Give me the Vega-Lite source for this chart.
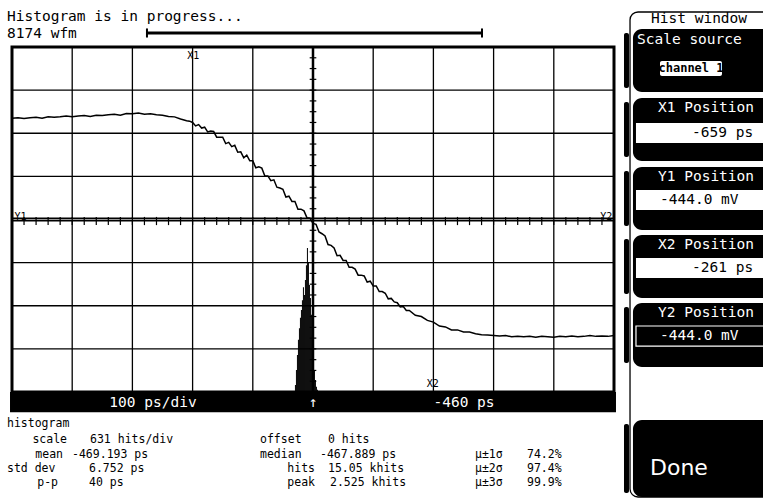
{
  "$schema": "https://vega.github.io/schema/vega-lite/v6.json",
  "width": 763,
  "height": 498,
  "autosize": {"type": "none"},
  "padding": 0,
  "background": "white",
  "config": {"view": {"stroke": null}, "text": {"font": "DejaVu Sans Mono"}},
  "datasets": {
    "vgrid": [{"t": -860}, {"t": -760}, {"t": -660}, {"t": -560}, {"t": -360}, {"t": -260}, {"t": -160}, {"t": -60}],
    "hgrid": [{"v": 1}, {"v": 2}, {"v": 3}, {"v": 5}, {"v": 6}, {"v": 7}],
    "hticks": [{"t": -940}, {"t": -920}, {"t": -900}, {"t": -880}, {"t": -860}, {"t": -840}, {"t": -820}, {"t": -800}, {"t": -780}, {"t": -760}, {"t": -740}, {"t": -720}, {"t": -700}, {"t": -680}, {"t": -660}, {"t": -640}, {"t": -620}, {"t": -600}, {"t": -580}, {"t": -560}, {"t": -540}, {"t": -520}, {"t": -500}, {"t": -480}, {"t": -440}, {"t": -420}, {"t": -400}, {"t": -380}, {"t": -360}, {"t": -340}, {"t": -320}, {"t": -300}, {"t": -280}, {"t": -260}, {"t": -240}, {"t": -220}, {"t": -200}, {"t": -180}, {"t": -160}, {"t": -140}, {"t": -120}, {"t": -100}, {"t": -80}, {"t": -60}, {"t": -40}, {"t": -20}, {"t": 0}, {"t": 20}],
    "vticks": [{"v": 0.25}, {"v": 0.5}, {"v": 0.75}, {"v": 1}, {"v": 1.25}, {"v": 1.5}, {"v": 1.75}, {"v": 2}, {"v": 2.25}, {"v": 2.5}, {"v": 2.75}, {"v": 3}, {"v": 3.25}, {"v": 3.5}, {"v": 3.75}, {"v": 4.25}, {"v": 4.5}, {"v": 4.75}, {"v": 5}, {"v": 5.25}, {"v": 5.5}, {"v": 5.75}, {"v": 6}, {"v": 6.25}, {"v": 6.5}, {"v": 6.75}, {"v": 7}, {"v": 7.25}, {"v": 7.5}, {"v": 7.75}],
    "histogram": [
      {"t0": -490.00, "t1": -488.34, "h": 0.16}, {"t0": -488.34, "t1": -486.68, "h": 0.51}, {"t0": -486.68, "t1": -485.02, "h": 0.86},
      {"t0": -485.02, "t1": -483.36, "h": 1.21}, {"t0": -483.36, "t1": -481.70, "h": 1.48}, {"t0": -481.70, "t1": -480.04, "h": 1.72},
      {"t0": -480.04, "t1": -478.38, "h": 1.90}, {"t0": -478.38, "t1": -476.72, "h": 2.13}, {"t0": -476.72, "t1": -475.06, "h": 2.43},
      {"t0": -475.06, "t1": -473.40, "h": 2.25}, {"t0": -473.40, "t1": -471.74, "h": 2.60}, {"t0": -471.74, "t1": -470.08, "h": 2.94},
      {"t0": -470.08, "t1": -468.42, "h": 3.34}, {"t0": -468.42, "t1": -466.76, "h": 3.01}, {"t0": -466.76, "t1": -465.10, "h": 2.48},
      {"t0": -465.10, "t1": -463.44, "h": 2.18}, {"t0": -463.44, "t1": -461.78, "h": 1.79}, {"t0": -461.78, "t1": -460.12, "h": 1.32},
      {"t0": -460.12, "t1": -458.46, "h": 0.86}, {"t0": -458.46, "t1": -456.80, "h": 0.51}, {"t0": -456.80, "t1": -455.14, "h": 0.28},
      {"t0": -455.14, "t1": -453.48, "h": 0.12}, {"t0": -453.48, "t1": -451.82, "h": 0.05}
    ],
    "waveform": [
      {"t": -960, "v": 6.35}, {"t": -950, "v": 6.36}, {"t": -940, "v": 6.34}, {"t": -930, "v": 6.36}, {"t": -920, "v": 6.37},
      {"t": -910, "v": 6.35}, {"t": -900, "v": 6.38}, {"t": -890, "v": 6.37}, {"t": -880, "v": 6.38}, {"t": -870, "v": 6.40},
      {"t": -860, "v": 6.38}, {"t": -850, "v": 6.40}, {"t": -840, "v": 6.41}, {"t": -830, "v": 6.39}, {"t": -820, "v": 6.42},
      {"t": -810, "v": 6.41}, {"t": -800, "v": 6.43}, {"t": -790, "v": 6.44}, {"t": -780, "v": 6.42}, {"t": -770, "v": 6.46},
      {"t": -760, "v": 6.45}, {"t": -750, "v": 6.47}, {"t": -740, "v": 6.44}, {"t": -730, "v": 6.45}, {"t": -720, "v": 6.43},
      {"t": -710, "v": 6.42}, {"t": -700, "v": 6.39}, {"t": -690, "v": 6.38}, {"t": -680, "v": 6.33}, {"t": -670, "v": 6.29},
      {"t": -665, "v": 6.28}, {"t": -660, "v": 6.25}, {"t": -655, "v": 6.17}, {"t": -650, "v": 6.20}, {"t": -645, "v": 6.12},
      {"t": -640, "v": 6.14}, {"t": -635, "v": 6.03}, {"t": -630, "v": 6.05}, {"t": -625, "v": 6.04}, {"t": -620, "v": 5.91},
      {"t": -615, "v": 5.91}, {"t": -610, "v": 5.91}, {"t": -605, "v": 5.76}, {"t": -600, "v": 5.79}, {"t": -595, "v": 5.69},
      {"t": -590, "v": 5.72}, {"t": -585, "v": 5.56}, {"t": -580, "v": 5.57}, {"t": -575, "v": 5.43}, {"t": -570, "v": 5.49},
      {"t": -565, "v": 5.36}, {"t": -560, "v": 5.36}, {"t": -555, "v": 5.20}, {"t": -550, "v": 5.22}, {"t": -545, "v": 5.19},
      {"t": -540, "v": 5.01}, {"t": -535, "v": 5.01}, {"t": -530, "v": 4.90}, {"t": -525, "v": 4.92}, {"t": -520, "v": 4.75},
      {"t": -515, "v": 4.73}, {"t": -510, "v": 4.70}, {"t": -505, "v": 4.52}, {"t": -500, "v": 4.54}, {"t": -495, "v": 4.42},
      {"t": -490, "v": 4.42}, {"t": -485, "v": 4.24}, {"t": -480, "v": 4.24}, {"t": -475, "v": 4.20}, {"t": -470, "v": 4.04},
      {"t": -465, "v": 4.03}, {"t": -460, "v": 3.91}, {"t": -455, "v": 3.89}, {"t": -450, "v": 3.71}, {"t": -445, "v": 3.67},
      {"t": -440, "v": 3.62}, {"t": -435, "v": 3.42}, {"t": -430, "v": 3.40}, {"t": -425, "v": 3.34}, {"t": -420, "v": 3.16},
      {"t": -415, "v": 3.17}, {"t": -410, "v": 3.05}, {"t": -405, "v": 3.05}, {"t": -400, "v": 2.89}, {"t": -395, "v": 2.89},
      {"t": -390, "v": 2.85}, {"t": -385, "v": 2.71}, {"t": -380, "v": 2.71}, {"t": -375, "v": 2.69}, {"t": -370, "v": 2.55},
      {"t": -365, "v": 2.57}, {"t": -360, "v": 2.46}, {"t": -355, "v": 2.46}, {"t": -350, "v": 2.33}, {"t": -345, "v": 2.33},
      {"t": -340, "v": 2.29}, {"t": -335, "v": 2.16}, {"t": -330, "v": 2.17}, {"t": -325, "v": 2.09}, {"t": -320, "v": 2.07},
      {"t": -315, "v": 1.97}, {"t": -310, "v": 1.98}, {"t": -305, "v": 1.89}, {"t": -300, "v": 1.89}, {"t": -290, "v": 1.78},
      {"t": -280, "v": 1.75}, {"t": -270, "v": 1.66}, {"t": -260, "v": 1.62}, {"t": -250, "v": 1.53}, {"t": -240, "v": 1.51},
      {"t": -230, "v": 1.44}, {"t": -220, "v": 1.44}, {"t": -210, "v": 1.39}, {"t": -200, "v": 1.39}, {"t": -190, "v": 1.35},
      {"t": -180, "v": 1.33}, {"t": -170, "v": 1.32}, {"t": -160, "v": 1.31}, {"t": -150, "v": 1.30}, {"t": -140, "v": 1.31},
      {"t": -130, "v": 1.28}, {"t": -120, "v": 1.29}, {"t": -110, "v": 1.28}, {"t": -100, "v": 1.29}, {"t": -90, "v": 1.27},
      {"t": -80, "v": 1.29}, {"t": -70, "v": 1.28}, {"t": -60, "v": 1.27}, {"t": -50, "v": 1.29}, {"t": -40, "v": 1.28},
      {"t": -30, "v": 1.30}, {"t": -20, "v": 1.28}, {"t": -10, "v": 1.29}, {"t": 0, "v": 1.31}, {"t": 10, "v": 1.29},
      {"t": 20, "v": 1.30}, {"t": 30, "v": 1.29}, {"t": 40, "v": 1.31}
    ],
    "titleText": [
      {"text": "Histogram is in progress...", "t": -968.3, "v": 8.603},
      {"text": "8174 wfm", "t": -968.3, "v": 8.22}
    ],
    "textLeft": [
      {"text": "histogram", "t": -968.3, "v": -0.812},
      {"text": "631 hits/div", "t": -830.4, "v": -1.183},
      {"text": "offset", "t": -548.0, "v": -1.183},
      {"text": "0 hits", "t": -435.1, "v": -1.183},
      {"text": "-469.193 ps", "t": -860.3, "v": -1.519},
      {"text": "median", "t": -548.0, "v": -1.519},
      {"text": "-467.889 ps", "t": -448.4, "v": -1.519},
      {"text": "μ±1σ", "t": -190.9, "v": -1.519},
      {"text": "74.2%", "t": -104.5, "v": -1.519},
      {"text": "std dev", "t": -968.3, "v": -1.855},
      {"text": "6.752 ps", "t": -832.1, "v": -1.855},
      {"text": "15.05 khits", "t": -435.1, "v": -1.855},
      {"text": "μ±2σ", "t": -190.9, "v": -1.855},
      {"text": "97.4%", "t": -104.5, "v": -1.855},
      {"text": "40 ps", "t": -832.1, "v": -2.191},
      {"text": "2.525 khits", "t": -431.8, "v": -2.191},
      {"text": "μ±3σ", "t": -190.9, "v": -2.191},
      {"text": "99.9%", "t": -104.5, "v": -2.191}
    ],
    "textRight": [
      {"text": "scale", "t": -868.6, "v": -1.183},
      {"text": "mean", "t": -875.3, "v": -1.519},
      {"text": "hits", "t": -456.7, "v": -1.855},
      {"text": "p-p", "t": -883.6, "v": -2.191},
      {"text": "peak", "t": -456.7, "v": -2.191}
    ],
    "barText": [{"text": "100 ps/div", "t": -725.8}, {"text": "↑", "t": -460}, {"text": "-460 ps", "t": -209.2}],
    "cursorText": [{"text": "X1", "t": -659, "v": 7.79}, {"text": "X2", "t": -261, "v": 0.19}, {"text": "Y1", "t": -946, "v": 4.06}, {"text": "Y2", "t": 27, "v": 4.06}],
    "progressEnds": [{"t": -735.8}, {"t": -179.3}],
    "buttons": [{"top": 8.418, "bottom": 6.957}, {"top": 6.817, "bottom": 5.357}, {"top": 5.217, "bottom": 3.757}, {"top": 3.641, "bottom": 2.18}, {"top": 2.064, "bottom": 0.58}, {"top": -0.649, "bottom": -2.435}],
    "tabs": [{"top": 8.325, "bottom": 7.049}, {"top": 6.725, "bottom": 5.45}, {"top": 5.125, "bottom": 3.849}, {"top": 3.548, "bottom": 2.273}, {"top": 1.971, "bottom": 0.673}, {"top": -0.742, "bottom": -2.342}],
    "valueBoxes": [{"top": 6.238, "bottom": 5.774}, {"top": 4.684, "bottom": 4.22}, {"top": 3.107, "bottom": 2.643}],
    "buttonLabels": [
      {"text": "Scale source", "t": 78.2, "v": 8.162},
      {"text": "X1 Position", "t": 113.1, "v": 6.586},
      {"text": "Y1 Position", "t": 113.1, "v": 4.986},
      {"text": "X2 Position", "t": 113.1, "v": 3.409},
      {"text": "Y2 Position", "t": 113.1, "v": 1.832},
      {"text": "-444.0 mV", "t": 116.4, "v": 1.299}
    ],
    "panelText": [
      {"text": "Hist window", "t": 101.5, "v": 8.649},
      {"text": "-659 ps", "t": 169.6, "v": 6.006},
      {"text": "-444.0 mV", "t": 116.4, "v": 4.452},
      {"text": "-261 ps", "t": 169.6, "v": 2.875}
    ]
  },
  "layer": [
    {
      "data": {"name": "vgrid"},
      "mark": {"type": "rule", "color": "black", "strokeWidth": 1.3},
      "encoding": {
        "x": {"field": "t", "type": "quantitative", "scale": {"domain": [-979.93, 287.5], "nice": false, "zero": false}, "axis": null},
        "y": {"datum": 0, "type": "quantitative", "scale": {"domain": [-2.458, 9.09], "nice": false, "zero": false}, "axis": null},
        "y2": {"datum": 8}
      }
    },
    {
      "data": {"name": "hgrid"},
      "mark": {"type": "rule", "color": "black", "strokeWidth": 1.3},
      "encoding": {
        "y": {"field": "v", "type": "quantitative", "scale": {"domain": [-2.458, 9.09], "nice": false, "zero": false}, "axis": null},
        "x": {"datum": -960, "type": "quantitative", "scale": {"domain": [-979.93, 287.5], "nice": false, "zero": false}, "axis": null},
        "x2": {"datum": 40}
      }
    },
    {
      "data": {"values": [{}]},
      "mark": {"type": "rule", "color": "black", "strokeWidth": 4},
      "encoding": {
        "y": {"datum": 4, "type": "quantitative", "scale": {"domain": [-2.458, 9.09], "nice": false, "zero": false}, "axis": null},
        "x": {"datum": -960, "type": "quantitative", "scale": {"domain": [-979.93, 287.5], "nice": false, "zero": false}, "axis": null},
        "x2": {"datum": 40}
      }
    },
    {
      "data": {"values": [{}]},
      "mark": {"type": "rule", "color": "#9a9a9a", "strokeWidth": 1.2},
      "encoding": {
        "y": {"datum": 4, "type": "quantitative", "scale": {"domain": [-2.458, 9.09], "nice": false, "zero": false}, "axis": null},
        "x": {"datum": -960, "type": "quantitative", "scale": {"domain": [-979.93, 287.5], "nice": false, "zero": false}, "axis": null},
        "x2": {"datum": 40}
      }
    },
    {
      "data": {"values": [{}]},
      "mark": {"type": "rule", "color": "black", "strokeWidth": 2.5},
      "encoding": {
        "x": {"datum": -460, "type": "quantitative", "scale": {"domain": [-979.93, 287.5], "nice": false, "zero": false}, "axis": null},
        "y": {"datum": 0, "type": "quantitative", "scale": {"domain": [-2.458, 9.09], "nice": false, "zero": false}, "axis": null},
        "y2": {"datum": 8}
      }
    },
    {
      "data": {"name": "hticks"},
      "mark": {"type": "rule", "color": "black", "strokeWidth": 1.2},
      "encoding": {
        "x": {"field": "t", "type": "quantitative", "scale": {"domain": [-979.93, 287.5], "nice": false, "zero": false}, "axis": null},
        "y": {"datum": 3.87, "type": "quantitative", "scale": {"domain": [-2.458, 9.09], "nice": false, "zero": false}, "axis": null},
        "y2": {"datum": 4.06}
      }
    },
    {
      "data": {"name": "vticks"},
      "mark": {"type": "rule", "color": "black", "strokeWidth": 1.2},
      "encoding": {
        "y": {"field": "v", "type": "quantitative", "scale": {"domain": [-2.458, 9.09], "nice": false, "zero": false}, "axis": null},
        "x": {"datum": -465.5, "type": "quantitative", "scale": {"domain": [-979.93, 287.5], "nice": false, "zero": false}, "axis": null},
        "x2": {"datum": -454.5}
      }
    },
    {
      "data": {"name": "histogram"},
      "mark": {"type": "rect", "color": "black"},
      "encoding": {
        "x": {"field": "t0", "type": "quantitative", "scale": {"domain": [-979.93, 287.5], "nice": false, "zero": false}, "axis": null},
        "x2": {"field": "t1"},
        "y": {"field": "h", "type": "quantitative", "scale": {"domain": [-2.458, 9.09], "nice": false, "zero": false}, "axis": null},
        "y2": {"datum": 0}
      }
    },
    {
      "data": {"name": "waveform"},
      "mark": {"type": "line", "color": "black", "strokeWidth": 1.5},
      "encoding": {
        "x": {"field": "t", "type": "quantitative", "scale": {"domain": [-979.93, 287.5], "nice": false, "zero": false}, "axis": null},
        "y": {"field": "v", "type": "quantitative", "scale": {"domain": [-2.458, 9.09], "nice": false, "zero": false}, "axis": null}
      }
    },
    {
      "data": {"values": [{}]},
      "mark": {"type": "rect", "fill": null, "fillOpacity": 0, "stroke": "black", "strokeWidth": 3},
      "encoding": {
        "x": {"datum": -960, "type": "quantitative", "scale": {"domain": [-979.93, 287.5], "nice": false, "zero": false}, "axis": null},
        "x2": {"datum": 40},
        "y": {"datum": 0, "type": "quantitative", "scale": {"domain": [-2.458, 9.09], "nice": false, "zero": false}, "axis": null},
        "y2": {"datum": 8}
      }
    },
    {
      "data": {"values": [{}]},
      "mark": {"type": "rect", "color": "black"},
      "encoding": {
        "x": {"datum": -963.3, "type": "quantitative", "scale": {"domain": [-979.93, 287.5], "nice": false, "zero": false}, "axis": null},
        "x2": {"datum": 43.3},
        "y": {"datum": 0, "type": "quantitative", "scale": {"domain": [-2.458, 9.09], "nice": false, "zero": false}, "axis": null},
        "y2": {"datum": -0.47}
      }
    },
    {
      "data": {"name": "barText"},
      "mark": {"type": "text", "color": "white", "fontSize": 14.5, "align": "center", "baseline": "middle"},
      "encoding": {
        "x": {"field": "t", "type": "quantitative", "scale": {"domain": [-979.93, 287.5], "nice": false, "zero": false}, "axis": null},
        "y": {"datum": -0.25, "type": "quantitative", "scale": {"domain": [-2.458, 9.09], "nice": false, "zero": false}, "axis": null},
        "text": {"field": "text"}
      }
    },
    {
      "data": {"name": "cursorText"},
      "mark": {"type": "text", "color": "black", "fontSize": 10, "align": "center", "baseline": "middle"},
      "encoding": {
        "x": {"field": "t", "type": "quantitative", "scale": {"domain": [-979.93, 287.5], "nice": false, "zero": false}, "axis": null},
        "y": {"field": "v", "type": "quantitative", "scale": {"domain": [-2.458, 9.09], "nice": false, "zero": false}, "axis": null},
        "text": {"field": "text"}
      }
    },
    {
      "data": {"name": "titleText"},
      "mark": {"type": "text", "color": "black", "fontSize": 14.5, "align": "left", "baseline": "alphabetic"},
      "encoding": {
        "x": {"field": "t", "type": "quantitative", "scale": {"domain": [-979.93, 287.5], "nice": false, "zero": false}, "axis": null},
        "y": {"field": "v", "type": "quantitative", "scale": {"domain": [-2.458, 9.09], "nice": false, "zero": false}, "axis": null},
        "text": {"field": "text"}
      }
    },
    {
      "data": {"name": "textLeft"},
      "mark": {"type": "text", "color": "black", "fontSize": 11.5, "align": "left", "baseline": "alphabetic"},
      "encoding": {
        "x": {"field": "t", "type": "quantitative", "scale": {"domain": [-979.93, 287.5], "nice": false, "zero": false}, "axis": null},
        "y": {"field": "v", "type": "quantitative", "scale": {"domain": [-2.458, 9.09], "nice": false, "zero": false}, "axis": null},
        "text": {"field": "text"}
      }
    },
    {
      "data": {"name": "textRight"},
      "mark": {"type": "text", "color": "black", "fontSize": 11.5, "align": "right", "baseline": "alphabetic"},
      "encoding": {
        "x": {"field": "t", "type": "quantitative", "scale": {"domain": [-979.93, 287.5], "nice": false, "zero": false}, "axis": null},
        "y": {"field": "v", "type": "quantitative", "scale": {"domain": [-2.458, 9.09], "nice": false, "zero": false}, "axis": null},
        "text": {"field": "text"}
      }
    },
    {
      "data": {"values": [{}]},
      "mark": {"type": "rule", "color": "black", "strokeWidth": 3},
      "encoding": {
        "x": {"datum": -735.8, "type": "quantitative", "scale": {"domain": [-979.93, 287.5], "nice": false, "zero": false}, "axis": null},
        "x2": {"datum": -179.3},
        "y": {"datum": 8.325, "type": "quantitative", "scale": {"domain": [-2.458, 9.09], "nice": false, "zero": false}, "axis": null}
      }
    },
    {
      "data": {"name": "progressEnds"},
      "mark": {"type": "rule", "color": "black", "strokeWidth": 2},
      "encoding": {
        "x": {"field": "t", "type": "quantitative", "scale": {"domain": [-979.93, 287.5], "nice": false, "zero": false}, "axis": null},
        "y": {"datum": 8.22, "type": "quantitative", "scale": {"domain": [-2.458, 9.09], "nice": false, "zero": false}, "axis": null},
        "y2": {"datum": 8.43}
      }
    },
    {
      "data": {"values": [{}]},
      "mark": {"type": "rect", "fill": null, "fillOpacity": 0, "stroke": "black", "strokeWidth": 1.3, "cornerRadius": 8},
      "encoding": {
        "x": {"datum": 66.6, "type": "quantitative", "scale": {"domain": [-979.93, 287.5], "nice": false, "zero": false}, "axis": null},
        "x2": {"datum": 315.7},
        "y": {"datum": 8.812, "type": "quantitative", "scale": {"domain": [-2.458, 9.09], "nice": false, "zero": false}, "axis": null},
        "y2": {"datum": -2.435}
      }
    },
    {
      "data": {"name": "tabs"},
      "mark": {"type": "rect", "color": "black", "cornerRadius": 2},
      "encoding": {
        "x": {"datum": 56.6, "type": "quantitative", "scale": {"domain": [-979.93, 287.5], "nice": false, "zero": false}, "axis": null},
        "x2": {"datum": 64.9},
        "y": {"field": "top", "type": "quantitative", "scale": {"domain": [-2.458, 9.09], "nice": false, "zero": false}, "axis": null},
        "y2": {"field": "bottom"}
      }
    },
    {
      "data": {"name": "buttons"},
      "mark": {"type": "rect", "color": "black", "cornerRadius": 9},
      "encoding": {
        "x": {"datum": 71.5, "type": "quantitative", "scale": {"domain": [-979.93, 287.5], "nice": false, "zero": false}, "axis": null},
        "x2": {"datum": 315.7},
        "y": {"field": "top", "type": "quantitative", "scale": {"domain": [-2.458, 9.09], "nice": false, "zero": false}, "axis": null},
        "y2": {"field": "bottom"}
      }
    },
    {
      "data": {"name": "valueBoxes"},
      "mark": {"type": "rect", "color": "white"},
      "encoding": {
        "x": {"datum": 76.5, "type": "quantitative", "scale": {"domain": [-979.93, 287.5], "nice": false, "zero": false}, "axis": null},
        "x2": {"datum": 315.7},
        "y": {"field": "top", "type": "quantitative", "scale": {"domain": [-2.458, 9.09], "nice": false, "zero": false}, "axis": null},
        "y2": {"field": "bottom"}
      }
    },
    {
      "data": {"values": [{}]},
      "mark": {"type": "rect", "fill": null, "fillOpacity": 0, "stroke": "white", "strokeWidth": 1.2},
      "encoding": {
        "x": {"datum": 76.5, "type": "quantitative", "scale": {"domain": [-979.93, 287.5], "nice": false, "zero": false}, "axis": null},
        "x2": {"datum": 315.7},
        "y": {"datum": 1.53, "type": "quantitative", "scale": {"domain": [-2.458, 9.09], "nice": false, "zero": false}, "axis": null},
        "y2": {"datum": 1.066}
      }
    },
    {
      "data": {"values": [{}]},
      "mark": {"type": "rect", "color": "white", "cornerRadius": 2},
      "encoding": {
        "x": {"datum": 116.4, "type": "quantitative", "scale": {"domain": [-979.93, 287.5], "nice": false, "zero": false}, "axis": null},
        "x2": {"datum": 219.4},
        "y": {"datum": 7.676, "type": "quantitative", "scale": {"domain": [-2.458, 9.09], "nice": false, "zero": false}, "axis": null},
        "y2": {"datum": 7.328}
      }
    },
    {
      "data": {"name": "buttonLabels"},
      "mark": {"type": "text", "color": "white", "fontSize": 14.5, "align": "left", "baseline": "middle"},
      "encoding": {
        "x": {"field": "t", "type": "quantitative", "scale": {"domain": [-979.93, 287.5], "nice": false, "zero": false}, "axis": null},
        "y": {"field": "v", "type": "quantitative", "scale": {"domain": [-2.458, 9.09], "nice": false, "zero": false}, "axis": null},
        "text": {"field": "text"}
      }
    },
    {
      "data": {"name": "panelText"},
      "mark": {"type": "text", "color": "black", "fontSize": 14.5, "align": "left", "baseline": "middle"},
      "encoding": {
        "x": {"field": "t", "type": "quantitative", "scale": {"domain": [-979.93, 287.5], "nice": false, "zero": false}, "axis": null},
        "y": {"field": "v", "type": "quantitative", "scale": {"domain": [-2.458, 9.09], "nice": false, "zero": false}, "axis": null},
        "text": {"field": "text"}
      }
    },
    {
      "data": {"values": [{"text": "channel 1"}]},
      "mark": {"type": "text", "color": "black", "fontSize": 12, "fontWeight": "bold", "align": "center", "baseline": "middle"},
      "encoding": {
        "x": {"datum": 167.9, "type": "quantitative", "scale": {"domain": [-979.93, 287.5], "nice": false, "zero": false}, "axis": null},
        "y": {"datum": 7.513, "type": "quantitative", "scale": {"domain": [-2.458, 9.09], "nice": false, "zero": false}, "axis": null},
        "text": {"field": "text"}
      }
    },
    {
      "data": {"values": [{"text": "Done"}]},
      "mark": {"type": "text", "color": "white", "font": "DejaVu Sans", "fontSize": 22, "align": "left", "baseline": "middle"},
      "encoding": {
        "x": {"datum": 99.8, "type": "quantitative", "scale": {"domain": [-979.93, 287.5], "nice": false, "zero": false}, "axis": null},
        "y": {"datum": -1.762, "type": "quantitative", "scale": {"domain": [-2.458, 9.09], "nice": false, "zero": false}, "axis": null},
        "text": {"field": "text"}
      }
    }
  ]
}
